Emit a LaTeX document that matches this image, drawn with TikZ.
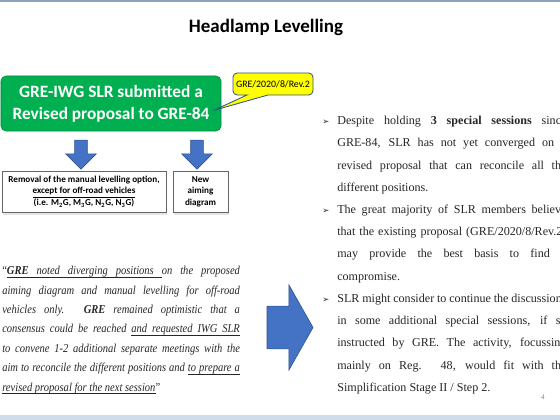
\documentclass[tikz,border=0pt]{standalone}
\usepackage{fontspec}
\setmainfont{Liberation Serif}
\setsansfont{Carlito}
\newfontfamily\bulletfont{DejaVu Sans}
\newfontfamily\quotefont{Liberation Serif}[FakeStretch=0.87]
\usetikzlibrary{shapes,arrows,calc,shadows}

\definecolor{slidegreen}{RGB}{0,176,80}
\definecolor{arrowblue}{RGB}{68,114,196}
\definecolor{arrowline}{RGB}{47,82,143}
\definecolor{noteyellow}{RGB}{255,255,0}
\definecolor{topline}{RGB}{140,162,184}
\definecolor{bottomband}{RGB}{208,220,234}

% one justified line of the quote / of the notes
\newcommand{\qline}[1]{\makebox[169pt][s]{#1}\\}
\newcommand{\nline}[1]{\makebox[163pt][s]{#1}\\}
\newcommand{\tipbullet}{\llap{{\bulletfont\fontsize{6}{6}\selectfont ➢}\hspace{5.6pt}}}
% underlined word and underlined (stretchable) space
\newcommand{\uword}[1]{\setbox0\hbox{#1}\rlap{\vrule height -1.5pt depth 1.95pt width \wd0}\box0}
\newcommand{\uspace}{\leaders\hrule height -1.5pt depth 1.95pt\hskip\fontdimen2\font plus \fontdimen3\font minus \fontdimen4\font}

\begin{document}
\begin{tikzpicture}[x=0.025cm, y=-0.025cm,
    title/.style={font=\sffamily\bfseries\fontsize{13.5}{16}\selectfont},
    greenbox/.style={draw=slidegreen!80!black, fill=slidegreen, rounded corners=3.5pt,
      text=white, align=center, minimum width=5.5cm, minimum height=1.375cm,
      font=\sffamily\bfseries\fontsize{12.3}{15.6}\selectfont},
    callout/.style={draw=arrowline, fill=noteyellow, line width=0.6pt},
    graybox/.style={draw=black!60, fill=white, align=center, minimum height=1.025cm,
      inner sep=1pt, font=\sffamily\bfseries\fontsize{6.5}{8.3}\selectfont,
      drop shadow={shadow xshift=1pt, shadow yshift=-2pt, opacity=0.25, fill=black!40}},
    downarr/.style={single arrow, draw=arrowline, fill=arrowblue, rotate=-90,
      inner xsep=0pt, inner ysep=0.15cm, minimum height=0.725cm,
      single arrow head extend=0.225cm},
    bigarr/.style={single arrow, draw=arrowline, fill=arrowblue,
      inner xsep=0pt, inner ysep=0.525cm, minimum height=1.15cm,
      single arrow head extend=0.5375cm, single arrow tip angle=121},
    quote/.style={anchor=north west, inner sep=0pt, align=left,
      font=\quotefont\itshape\fontsize{8.6}{13.8}\selectfont, text=black!85},
    notes/.style={anchor=north west, inner sep=0pt, align=left,
      font=\fontsize{8.6}{15.8}\selectfont, text=black!85}
  ]
  \path[use as bounding box, clip] (0,0) rectangle (560,420);

  % frame of the slide
  \draw[topline, line width=1.1pt] (0,0.75) -- (560,0.75);
  \fill[bottomband] (0,415) rectangle (560,420);

  \node[title] (title) at (266,27) {Headlamp Levelling};

  % left column
  \node[greenbox] (green) at (111,103.5) {GRE-IWG SLR submitted a\\Revised proposal to GRE-84};
  \coordinate (tip) at ($(green.east)+(-8,7)$);
  \draw[callout] (233,84) [rounded corners=3pt] -- (233,73) -- (313,73) -- (313,95)
    [sharp corners] -- (268,95) -- (tip) -- (247,95) [rounded corners=3pt] -- (233,95) -- cycle;
  \node[font=\sffamily\fontsize{7}{8}\selectfont] (ref) at (273,84) {GRE/2020/8/Rev.2};

  \node[downarr] (arrL) at (81,151.5) {};
  \node[downarr] (arrR) at (197,151.5) {};

  \node[graybox, minimum width=4.1cm] (manual) at (84,191.5)
    {Removal of the manual levelling option,\\
     \underline{except for off-road vehicles}\\
     (i.e. M\textsubscript{2}G, M\textsubscript{3}G, N\textsubscript{2}G, N\textsubscript{3}G)};
  \node[graybox, minimum width=1.375cm] (aiming) at (200.5,191.5) {New\\aiming\\diagram};

  \node[quote] (quote) at (2,266)
    {\qline{{\upshape “}\uword{\textbf{GRE}}\uspace\uword{noted}\uspace\uword{diverging}\uspace\uword{positions}\uspace on the proposed}
     \qline{aiming diagram and manual levelling for off-road}
     \qline{vehicles only. \textbf{GRE} remained optimistic that a}
     \qline{consensus could be reached \uword{and}\uspace\uword{requested}\uspace\uword{IWG}\uspace\uword{SLR}}
     \qline{to convene 1-2 additional separate meetings with the}
     \qline{aim to reconcile the different positions and \uword{to}\uspace\uword{prepare}\uspace\uword{a}}
     \uword{revised}\uspace\uword{proposal}\uspace\uword{for}\uspace\uword{the}\uspace\uword{next}\uspace\uword{session}{\upshape ”}};

  \node[bigarr] (push) at (284,327.5) {};

  % right column
  \node[notes] (notes) at (337,116)
    {\tipbullet\nline{Despite holding \textbf{3 special sessions} since}
     \nline{GRE-84, SLR has not yet converged on a}
     \nline{revised proposal that can reconcile all the}
     different positions.\\
     \tipbullet\nline{The great majority of SLR members believe}
     \nline{that the existing proposal (GRE/2020/8/Rev.2)}
     \nline{may provide the best basis to find a}
     compromise.\\
     \tipbullet\nline{SLR might consider to continue the discussions}
     \nline{in some additional special sessions, if so}
     \nline{instructed by GRE. The activity, focussing}
     \nline{mainly on Reg. 48, would fit with the}
     Simplification Stage II / Step 2.};

  \node[font=\fontsize{5}{6}\selectfont, text=black!50] (pagenum) at (543,397) {4};
\end{tikzpicture}
\end{document}
